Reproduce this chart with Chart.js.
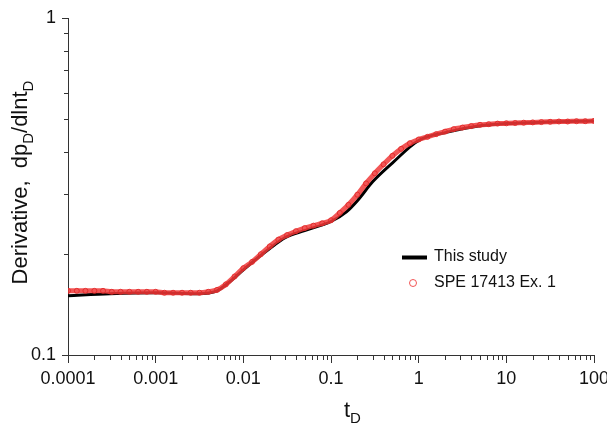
<!DOCTYPE html>
<html>
<head>
<meta charset="utf-8">
<script src="https://cdn.jsdelivr.net/npm/chart.js@4"></script>
<style>
  body { margin: 0; background: #fff; }
  canvas { display: block; }
</style>
</head>
<body>
<canvas id="grafico" width="607" height="424"></canvas>
<script>
// SPE 17413 Ex. 1 (pontos vermelhos)
const tD = [
  0.0001, 0.000126, 0.000158, 0.0002, 0.000251, 0.000316, 0.000398, 0.000501, 0.000631, 0.000794,
  0.001, 0.00126, 0.00158, 0.002, 0.00251, 0.00316, 0.00398, 0.00501, 0.00631, 0.00794,
  0.01, 0.0126, 0.0158, 0.02, 0.0251, 0.0316, 0.0398, 0.0501, 0.0631, 0.0794,
  0.1, 0.126, 0.158, 0.2, 0.251, 0.316, 0.398, 0.501, 0.631, 0.794,
  1, 1.26, 1.58, 2, 2.51, 3.16, 3.98, 5.01, 6.31, 7.94,
  10, 12.6, 15.8, 20, 25.1, 31.6, 39.8, 50.1, 63.1, 79.4, 100
]
const speDeriv = [
  0.155, 0.155, 0.155, 0.155, 0.155, 0.154, 0.154, 0.154, 0.154, 0.154,
  0.154, 0.153, 0.153, 0.153, 0.153, 0.153, 0.154, 0.156, 0.162, 0.171,
  0.181, 0.189, 0.199, 0.210, 0.220, 0.227, 0.233, 0.238, 0.242, 0.246,
  0.251, 0.264, 0.279, 0.299, 0.323, 0.346, 0.368, 0.390, 0.409, 0.425,
  0.436, 0.444, 0.452, 0.460, 0.468, 0.473, 0.478, 0.482, 0.484, 0.486,
  0.487, 0.488, 0.489, 0.490, 0.491, 0.492, 0.493, 0.493, 0.494, 0.494, 0.495
]

// This study (linha preta)
const lineT = [0.0001, 0.0003, 0.001, 0.003, 0.005, 0.007, 0.01, 0.02, 0.03, 0.05, 0.1, 0.15, 0.2, 0.3, 0.5, 1, 2, 5, 10, 30, 100]
const lineDeriv = [0.150, 0.152, 0.153, 0.152, 0.155, 0.165, 0.179, 0.207, 0.223, 0.234, 0.249, 0.266, 0.287, 0.327, 0.371, 0.433, 0.457, 0.479, 0.486, 0.491, 0.495]

const xTickValues = [0.0001, 0.001, 0.01, 0.1, 1, 10, 100]
const xTickLabels = ['0.0001', '0.001', '0.01', '0.1', '1', '10', '100']
const yTickValues = [0.1, 1]
const yTickLabels = ['0.1', '1']

const nomesSeries = ['This study', 'SPE 17413 Ex. 1']
const vermelho = 'rgba(240, 56, 56, 0.85)'
const fonte = '"Liberation Sans", Arial, sans-serif'

function fixaTicks(valores) {
  return function (scale) {
    scale.ticks = valores.map(v => ({ value: v }))
  }
}

function rotulo(valores, rotulos) {
  return function (value) {
    const i = valores.findIndex(v => Math.abs(v - value) / v < 1e-6)
    return i >= 0 ? rotulos[i] : ''
  }
}

// ticks menores, titulos dos eixos e legenda
const extras = {
  id: 'extras',
  afterDraw(chart) {
    const ctx = chart.ctx
    const x = chart.scales.x
    const y = chart.scales.y
    const area = chart.chartArea
    ctx.save()
    ctx.strokeStyle = '#333'
    ctx.lineWidth = 1
    ctx.beginPath()
    for (let e = -4; e < 2; e++) {
      for (let m = 2; m <= 9; m++) {
        const px = Math.round(x.getPixelForValue(m * Math.pow(10, e))) + 0.5
        ctx.moveTo(px, area.bottom)
        ctx.lineTo(px, area.bottom + 5)
      }
    }
    for (let m = 2; m <= 9; m++) {
      const py = Math.round(y.getPixelForValue(m / 10)) + 0.5
      ctx.moveTo(area.left, py)
      ctx.lineTo(area.left - 4, py)
    }
    ctx.stroke()

    ctx.fillStyle = '#111'
    ctx.textBaseline = 'alphabetic'
    ctx.textAlign = 'left'

    // titulo eixo y
    ctx.save()
    ctx.translate(27, (area.top + area.bottom) / 2 - 4)
    ctx.rotate(-Math.PI / 2)
    const partes = [['Derivative,  dp', 22, 0], ['D', 15, 6], ['/dlnt', 22, 0], ['D', 15, 6]]
    let total = 0
    partes.forEach(p => { ctx.font = p[1] + 'px ' + fonte; total += ctx.measureText(p[0]).width })
    let cx = -total / 2
    partes.forEach(p => {
      ctx.font = p[1] + 'px ' + fonte
      ctx.fillText(p[0], cx, p[2])
      cx += ctx.measureText(p[0]).width
    })
    ctx.restore()

    // titulo eixo x
    ctx.font = '22px ' + fonte
    ctx.fillText('t', 344, 417)
    const wt = ctx.measureText('t').width
    ctx.font = '15px ' + fonte
    ctx.fillText('D', 344 + wt, 423)

    // legenda
    ctx.font = '16px ' + fonte
    ctx.textBaseline = 'middle'
    ctx.strokeStyle = '#000'
    ctx.lineWidth = 4
    ctx.beginPath()
    ctx.moveTo(402, 257.5)
    ctx.lineTo(427, 257.5)
    ctx.stroke()
    ctx.fillText(nomesSeries[0], 434, 257)
    ctx.strokeStyle = vermelho
    ctx.lineWidth = 1
    ctx.beginPath()
    ctx.arc(413, 283, 3.5, 0, Math.PI * 2)
    ctx.stroke()
    ctx.fillText(nomesSeries[1], 434, 283)
    ctx.restore()
  }
}

new Chart(document.getElementById('grafico'), {
  type: 'scatter',
  data: {
    datasets: [
      {
        label: nomesSeries[1],
        data: tD.map((t, i) => ({ x: t, y: speDeriv[i] })),
        showLine: true,
        borderColor: vermelho,
        borderWidth: 5,
        pointStyle: 'circle',
        pointRadius: 2.5,
        pointBorderWidth: 1,
        pointBorderColor: 'rgba(225, 40, 40, 0.9)',
        pointBackgroundColor: 'rgba(0,0,0,0)',
        cubicInterpolationMode: 'monotone',
        order: 0
      },
      {
        label: nomesSeries[0],
        data: lineT.map((t, i) => ({ x: t, y: lineDeriv[i] })),
        showLine: true,
        borderColor: '#000',
        borderWidth: 3,
        pointRadius: 0,
        cubicInterpolationMode: 'monotone',
        order: 1
      }
    ]
  },
  options: {
    responsive: false,
    animation: false,
    devicePixelRatio: 1,
    layout: { padding: { top: 18, right: 13, left: 0, bottom: 0 } },
    plugins: { legend: { display: false }, tooltip: { enabled: false } },
    scales: {
      x: {
        type: 'logarithmic',
        min: 0.0001,
        max: 100,
        afterBuildTicks: fixaTicks(xTickValues),
        afterFit(scale) {
          scale.height = 69
          scale.paddingLeft = 0
          scale.paddingRight = 0
        },
        grid: { drawOnChartArea: false, drawTicks: true, tickLength: 8, color: '#333' },
        border: { display: true, color: '#333', width: 1 },
        ticks: {
          autoSkip: false,
          maxRotation: 0,
          padding: 5,
          color: '#111',
          font: { family: fonte, size: 18 },
          callback: rotulo(xTickValues, xTickLabels)
        }
      },
      y: {
        type: 'logarithmic',
        min: 0.1,
        max: 1,
        afterBuildTicks: fixaTicks(yTickValues),
        afterFit(scale) {
          scale.width = 68
          scale.paddingTop = 0
          scale.paddingBottom = 0
        },
        grid: { drawOnChartArea: false, drawTicks: true, tickLength: 6, color: '#333' },
        border: { display: true, color: '#333', width: 1 },
        ticks: {
          autoSkip: false,
          padding: 6,
          color: '#111',
          font: { family: fonte, size: 18 },
          callback: rotulo(yTickValues, yTickLabels)
        }
      }
    }
  },
  plugins: [extras]
})
</script>
</body>
</html>
